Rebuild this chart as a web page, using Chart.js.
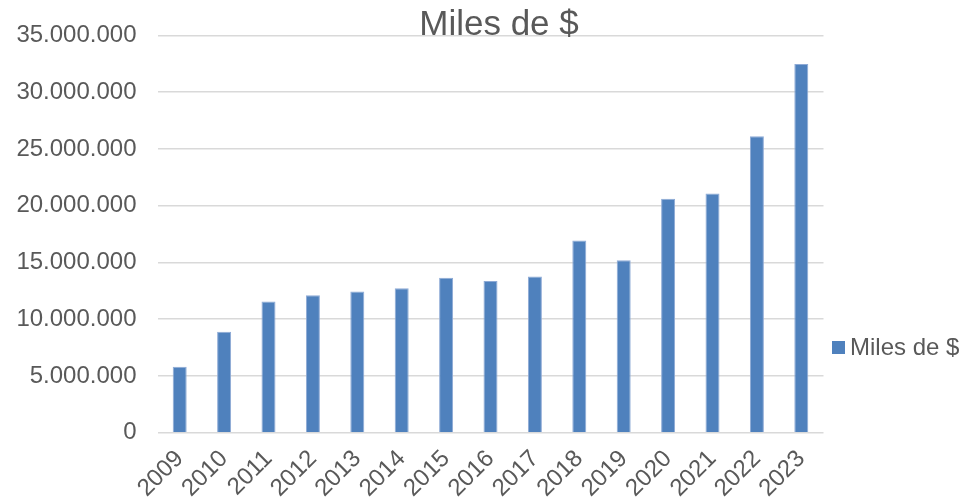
<!DOCTYPE html>
<html>
<head>
<meta charset="utf-8">
<script src="https://cdn.jsdelivr.net/npm/chart.js@4/dist/chart.umd.min.js"></script>
<style>
  html, body { margin: 0; padding: 0; background: #fff; }
  #wrap { width: 962px; height: 503px; position: relative; }
</style>
</head>
<body>
<div id="wrap"><canvas id="chart"></canvas></div>
<script>
// ---------------------- DATA -------------------------
const years = ['2009','2010','2011','2012','2013','2014','2015','2016','2017','2018','2019','2020','2021','2022','2023'];
const milesDePesos = [5820000, 8890000, 11550000, 12110000, 12430000, 12720000, 13650000, 13360000, 13770000, 16930000, 15200000, 20610000, 21080000, 26110000, 32490000];
const seriesLabel = 'Miles de $';
const chartTitle = 'Miles de $';
const yMax = 35000000;
const yStep = 5000000;

const FONT = "'Liberation Sans', Arial, sans-serif";
const TEXT_COLOR = '#595959';

// "35000000" -> "35.000.000"
function formatDots(v) {
      return String(v).replace(/\B(?=(\d{3})+(?!\d))/g, '.');
}

// title sits on top of the plot, like the Excel export
const titlePlugin = {
      id: 'excelTitle',
      afterDraw(chart) {
            const ctx = chart.ctx;
            ctx.save();
            ctx.font = `35px ${FONT}`;
            ctx.fillStyle = TEXT_COLOR;
            ctx.textAlign = 'center';
            ctx.textBaseline = 'alphabetic';
            ctx.fillText(chartTitle, 499, 35);
            ctx.restore();
      }
};

// legend at the right, lower than centre
const legendPlugin = {
      id: 'excelLegend',
      afterDraw(chart) {
            const ctx = chart.ctx;
            const ds = chart.data.datasets[0];
            ctx.save();
            ctx.fillStyle = ds.backgroundColor;
            ctx.fillRect(832, 341, 13, 13);
            ctx.font = `24px ${FONT}`;
            ctx.fillStyle = TEXT_COLOR;
            ctx.textAlign = 'left';
            ctx.textBaseline = 'middle';
            ctx.fillText(ds.label, 850, 348);
            ctx.restore();
      }
};

const ctx = document.getElementById('chart').getContext('2d');
new Chart(ctx, {
      type: 'bar',
      data: {
            labels: years,
            datasets: [{
                  label: seriesLabel,
                  data: milesDePesos,
                  backgroundColor: '#4f81bd',
                  borderColor: '#8eaad6',
                  borderWidth: 1,
                  categoryPercentage: 1,
                  barPercentage: 0.315
            }]
      },
      options: {
            responsive: true,
            maintainAspectRatio: false,
            animation: false,
            layout: { padding: { top: 34, right: 138.5, left: 0, bottom: 0 } },
            plugins: {
                  legend: { display: false },
                  title: { display: false },
                  tooltip: { enabled: false }
            },
            scales: {
                  y: {
                        min: 0,
                        max: yMax,
                        afterFit: (scale) => { scale.width = 157.5; },
                        ticks: {
                              stepSize: yStep,
                              padding: 21,
                              color: TEXT_COLOR,
                              font: { family: FONT, size: 24 },
                              callback: (v) => formatDots(v)
                        },
                        grid: { color: '#d9d9d9', lineWidth: 1.5, drawTicks: false },
                        border: { display: false }
                  },
                  x: {
                        afterFit: (scale) => { scale.height = 70.3; },
                        ticks: {
                              minRotation: 45,
                              maxRotation: 45,
                              autoSkip: false,
                              padding: 12,
                              color: TEXT_COLOR,
                              font: { family: FONT, size: 24 }
                        },
                        grid: { display: false, drawTicks: false },
                        border: { display: false }
                  }
            }
      },
      plugins: [titlePlugin, legendPlugin]
});
</script>
</body>
</html>
